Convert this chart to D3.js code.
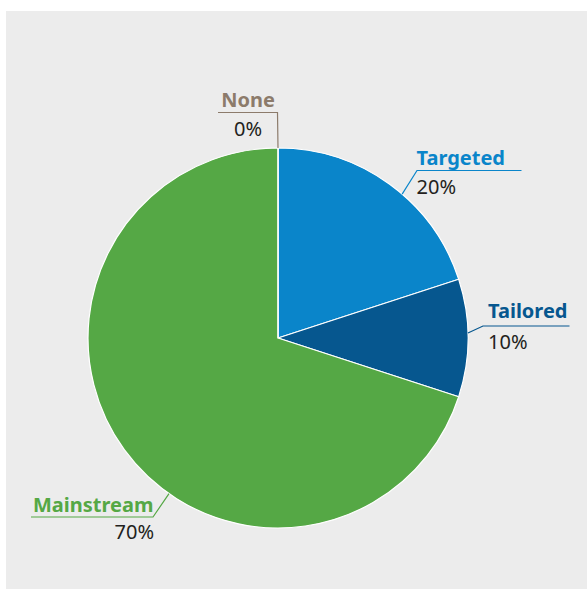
<!DOCTYPE html>
<html>
<head>
<meta charset="utf-8">
<script src="https://cdn.jsdelivr.net/npm/d3@7/dist/d3.min.js"></script>
<style>
  html, body { margin: 0; padding: 0; background: #ffffff; }
  svg { display: block; }
  text { font-family: "Noto Sans", "Open Sans", sans-serif; }
</style>
</head>
<body>
<script>
// Share of approaches (percent)
const categories = ["Targeted", "Tailored", "Mainstream", "None"];
const shares = [20, 10, 70, 0];
const sliceColors = ["#0a85ca", "#06578f", "#55a845", "#8c7b6b"];
const valueLabels = ["20%", "10%", "70%", "0%"];

const width = 587, height = 589;
const cx = 278, cy = 338, radius = 190;

// Label placement: anchor angle on the rim (deg, clockwise from top), elbow, line end, text anchor
const labelLayout = {
  "Targeted":   { angle: 40.8, elbow: [417, 170.5], end: 521.5, tx: 416.5, anchor: "start", nameY: 165, valY: 194 },
  "Tailored":   { angle: 88.5, elbow: [483, 326], end: 569.5, tx: 488, anchor: "start", nameY: 318, valY: 348.5 },
  "Mainstream": { angle: 215,  elbow: [153, 517], end: 31, tx: 33, vx: 154, anchor: "start", nameY: 512, valY: 538.5 },
  "None":       { angle: 0,    elbow: [277.5, 112.5], end: 218, tx: 248, anchor: "middle", nameY: 106.5, valY: 135.5 }
};

const svg = d3.select("body").append("svg")
  .attr("width", width).attr("height", height);

// Panel background
svg.append("rect")
  .attr("x", 6).attr("y", 11)
  .attr("width", width - 6).attr("height", height - 11)
  .attr("fill", "#ececec");

const pie = d3.pie().sort(null).value(d => d);
const arcs = pie(shares);
const arc = d3.arc().innerRadius(0).outerRadius(radius);

const g = svg.append("g").attr("transform", `translate(${cx},${cy})`);

g.selectAll("path.slice")
  .data(arcs)
  .join("path")
  .attr("class", "slice")
  .attr("d", arc)
  .attr("fill", (d, i) => sliceColors[i])
  .attr("stroke", "#ffffff")
  .attr("stroke-width", 1.2)
  .attr("stroke-linejoin", "round");

// Leader lines and labels
categories.forEach((name, i) => {
  const L = labelLayout[name];
  const a = L.angle * Math.PI / 180;
  const px = cx + radius * Math.sin(a);
  const py = cy - radius * Math.cos(a);
  const color = sliceColors[i];

  svg.append("polyline")
    .attr("points", `${px},${py} ${L.elbow[0]},${L.elbow[1]} ${L.end},${L.elbow[1]}`)
    .attr("fill", "none")
    .attr("stroke", color)
    .attr("stroke-width", 1.2);

  svg.append("text")
    .attr("x", L.tx).attr("y", L.nameY)
    .attr("text-anchor", L.anchor)
    .attr("font-size", 20)
    .attr("font-weight", 700)
    .attr("fill", color)
    .text(name);

  svg.append("text")
    .attr("x", L.vx !== undefined ? L.vx : L.tx).attr("y", L.valY)
    .attr("text-anchor", L.vx !== undefined ? "end" : L.anchor)
    .attr("font-size", 20)
    .attr("fill", "#231f20")
    .text(valueLabels[i]);
});
</script>
</body>
</html>
